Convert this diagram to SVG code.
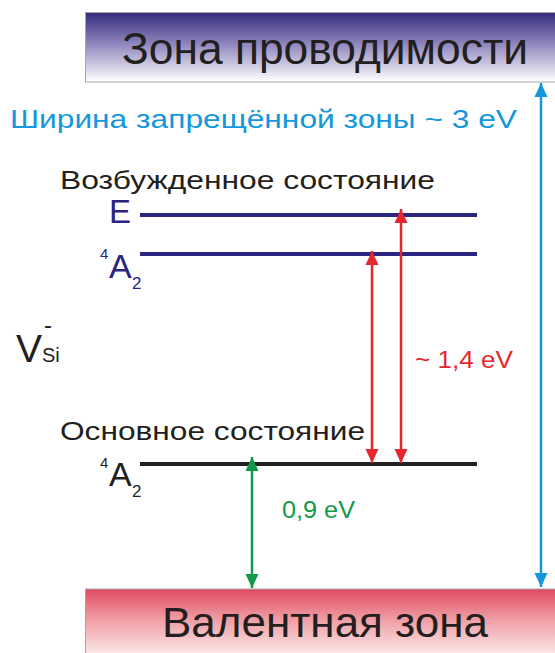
<svg xmlns="http://www.w3.org/2000/svg" width="555" height="653" viewBox="0 0 555 653">
<defs>
<linearGradient id="gTop" x1="0" y1="0" x2="0" y2="1">
<stop offset="0" stop-color="#332a7c"/>
<stop offset="0.45" stop-color="#8f86bd"/>
<stop offset="1" stop-color="#ffffff"/>
</linearGradient>
<linearGradient id="gBot" x1="0" y1="0" x2="0" y2="1">
<stop offset="0" stop-color="#df4a62"/>
<stop offset="0.45" stop-color="#f0a0a6"/>
<stop offset="1" stop-color="#fdf2f2"/>
</linearGradient>
<marker id="aRed" markerUnits="userSpaceOnUse" markerWidth="14" markerHeight="16" refX="15" refY="7" viewBox="0 0 15 14" orient="auto-start-reverse"><path d="M0,0 L15,7 L0,14 Z" fill="#e4282d"/></marker>
<marker id="aGreen" markerUnits="userSpaceOnUse" markerWidth="14" markerHeight="16" refX="15" refY="7" viewBox="0 0 15 14" orient="auto-start-reverse"><path d="M0,0 L15,7 L0,14 Z" fill="#0f9a48"/></marker>
<marker id="aBlue" markerUnits="userSpaceOnUse" markerWidth="14" markerHeight="16" refX="15" refY="7" viewBox="0 0 15 14" orient="auto-start-reverse"><path d="M0,0 L15,7 L0,14 Z" fill="#1597dd"/></marker>
</defs>
<style>
text{font-family:"Liberation Sans",Arial,sans-serif;}
.dark{fill:#231f20;}
.navy{fill:#2b2480;}
.lvl{stroke-width:4;}
</style>
<g id="conduction-band">
<rect x="85.5" y="12.5" width="475" height="69.5" fill="url(#gTop)" stroke="#a8a8a8" stroke-width="1"/>
<text x="122" y="64" font-size="45" class="dark" textLength="406" lengthAdjust="spacingAndGlyphs">Зона проводимости</text>
</g>
<g id="valence-band">
<rect x="85.5" y="589" width="475" height="70" fill="url(#gBot)" stroke="#a8a8a8" stroke-width="1"/>
<text x="162" y="637" font-size="43" class="dark" textLength="326" lengthAdjust="spacingAndGlyphs">Валентная зона</text>
</g>
<g id="gap-label">
<text x="10" y="128" font-size="26" fill="#1597dd" textLength="507" lengthAdjust="spacingAndGlyphs">Ширина запрещённой зоны ~ 3 eV</text>
</g>
<g id="excited-title">
<text x="60" y="189" font-size="26" class="dark" textLength="375" lengthAdjust="spacingAndGlyphs">Возбужденное состояние</text>
</g>
<g id="level-E">
<line x1="140" y1="215" x2="477" y2="215" stroke="#2b2480" class="lvl"/>
<text x="109" y="223" font-size="34" class="navy" textLength="22" lengthAdjust="spacingAndGlyphs">E</text>
</g>
<g id="level-4A2-excited">
<line x1="140" y1="254" x2="477" y2="254" stroke="#2b2480" class="lvl"/>
<text x="100" y="259" font-size="15" class="navy">4</text>
<text x="109" y="278" font-size="34" class="navy">A</text>
<text x="132" y="289" font-size="17" class="navy">2</text>
</g>
<g id="vsi-label">
<text x="16" y="362" font-size="39" class="dark">V</text>
<text x="42" y="362" font-size="20" class="dark">Si</text>
<text x="44" y="333" font-size="24" class="dark">-</text>
</g>
<g id="ground-title">
<text x="60" y="440" font-size="26" class="dark" textLength="305" lengthAdjust="spacingAndGlyphs">Основное состояние</text>
</g>
<g id="level-4A2-ground">
<line x1="140" y1="464" x2="477" y2="464" stroke="#231f20" class="lvl"/>
<text x="100" y="468" font-size="15" class="dark">4</text>
<text x="109" y="486" font-size="34" class="dark">A</text>
<text x="132" y="497" font-size="17" class="dark">2</text>
</g>
<g id="labels">
<text x="415" y="368" font-size="23" fill="#e4282d" textLength="98" lengthAdjust="spacingAndGlyphs">~ 1,4 eV</text>
<text x="282" y="518" font-size="24" fill="#0f9a48" textLength="73" lengthAdjust="spacingAndGlyphs">0,9 eV</text>
</g>
<g id="connectors" fill="none">
<line x1="372" y1="463" x2="372" y2="251" stroke="#e4282d" stroke-width="2.5" marker-start="url(#aRed)" marker-end="url(#aRed)"/>
<line x1="401" y1="463" x2="401" y2="209" stroke="#e4282d" stroke-width="2.5" marker-start="url(#aRed)" marker-end="url(#aRed)"/>
<line x1="252" y1="457" x2="252" y2="588" stroke="#0f9a48" stroke-width="2.5" marker-start="url(#aGreen)" marker-end="url(#aGreen)"/>
<line x1="541" y1="83" x2="541" y2="587" stroke="#1597dd" stroke-width="2.5" marker-start="url(#aBlue)" marker-end="url(#aBlue)"/>
</g>
</svg>
